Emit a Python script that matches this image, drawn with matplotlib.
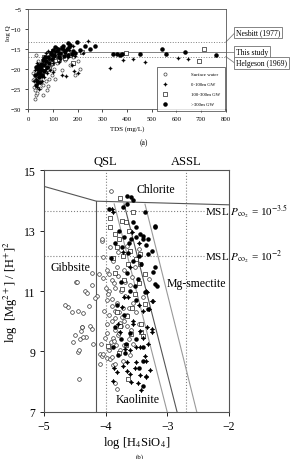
import matplotlib
matplotlib.use("Agg")
import matplotlib.pyplot as plt

plt.rcParams['font.family'] = ['Liberation Serif', 'DejaVu Serif']
plt.rcParams['mathtext.fontset'] = 'stix'

# ---------------- (a) log Q vs TDS ----------------
sw_tds = [27, 30, 27, 35, 61, 75, 81, 20, 135, 189, 25, 40, 50, 60, 70, 45, 55, 65, 80, 90,
          100, 110, 120, 95, 85, 105, 115, 130, 150, 170, 35, 40, 30, 60, 110, 70, 180, 200, 210, 22,
          18, 33, 48, 52, 38]
sw_q = [-27.5, -26.6, -25.3, -26.0, -26.4, -25.3, -24.3, -22.8, -20.3, -21.5, -22.5, -23.2, -22.0, -21.0,
        -20.5, -19.5, -18.8, -19.2, -18.0, -19.0, -17.5, -16.5, -17.0, -21.5, -22.6, -20.0, -18.5, -16.8,
        -17.8, -19.0, -20.0, -18.0, -16.5, -24.0, -22.5, -23.0, -17.0, -18.0, -20.0, -24.5,
        -21.0, -21.8, -24.8, -23.6, -19.0]

gw1_tds = [153, 135, 185, 243, 182, 331, 383, 425, 474, 605, 646, 30, 40, 45, 50, 55, 60, 65, 70, 75,
           80, 85, 90, 95, 100, 105, 110, 115, 120, 130, 140, 150, 160, 165, 175, 190, 200, 220, 35, 45,
           55, 65, 25, 60, 100, 38, 48, 58, 68, 78, 88, 98, 125, 145, 28, 33, 42, 52, 57, 63, 72, 36]
gw1_q = [-21.8, -21.5, -20.4, -12.9, -14.3, -19.7, -17.7, -17.6, -18.3, -17.3, -17.5, -21.5, -23.5, -22.0,
         -20.5, -19.0, -18.0, -17.0, -16.0, -21.0, -19.5, -17.5, -16.5, -15.5, -18.5, -17.0, -15.8, -14.8,
         -16.2, -17.6, -15.0, -16.0, -17.0, -15.2, -19.0, -16.8, -21.0, -16.0, -24.5, -25.0, -23.0, -22.0,
         -23.0, -20.3, -20.8, -19.0, -21.2, -17.5, -18.7, -15.6, -20.2, -16.6, -18.2, -15.7, -20.2, -22.4,
         -20.8, -19.6, -21.8, -18.9, -19.9, -18.4]

gw2_tds = [216, 396, 693, 711, 60, 70, 80, 90, 100, 110, 120, 130, 140, 150, 160, 170, 180, 85, 95,
           105, 115, 125, 135, 145, 75, 65, 45, 55]
gw2_q = [-15.8, -16.1, -18.1, -15.0, -19.5, -18.0, -17.2, -16.0, -15.5, -17.8, -16.3, -15.2, -16.7, -17.3,
         -15.8, -16.5, -18.5, -19.8, -18.6, -16.9, -15.9, -17.5, -14.7, -16.1, -20.0, -17.0, -20.6, -21.6]

gw3_tds = [270, 230, 199, 162, 210, 342, 360, 370, 380, 453, 541, 557, 635, 761, 40, 50, 60, 70, 80,
           90, 100, 110, 120, 130, 140, 150, 160, 170, 180, 190, 45, 55, 65, 75, 85, 95, 105, 115, 125,
           135, 145, 155, 165, 175, 250, 35, 42, 52, 30, 38, 47, 58, 68, 26, 33, 44]
gw3_q = [-14.3, -14.3, -13.3, -13.5, -15.2, -16.2, -16.3, -16.4, -16.2, -16.3, -15.1, -16.2, -15.8, -16.4,
         -21.0, -20.0, -19.0, -18.0, -17.0, -16.0, -15.2, -14.5, -15.0, -16.0, -14.2, -15.5, -16.5, -14.0,
         -15.5, -16.0, -22.0, -21.5, -20.5, -19.5, -18.5, -17.5, -16.5, -15.5, -17.0, -14.8, -16.8, -15.0,
         -14.5, -16.2, -15.0, -23.0, -21.0, -18.8, -19.5, -20.0, -23.3, -17.8, -16.9, -21.6, -24.0, -19.2]

q_ref = [-13.3, -15.8, -16.9]          # Nesbitt, this study, Helgeson
q_lab = ['Nesbitt (1977)', 'This study', 'Helgeson (1969)']
q_lab_y = [-10.9, -15.8, -18.6]        # where the connector meets the box

# ---------------- (b) stability diagram ----------------
b_sw_x = [-4.43, -4.61, -4.48, -4.34, -4.22, -4.44, -4.36, -4.27, -4.25, -4.39, -4.40, -4.22, -4.53, -4.42,
          -4.32, -4.44, -4.43, -4.38, -4.20, -4.09, -4.09, -4.14, -4.22, -4.10, -4.04, -4.05, -4.04, -4.17,
          -4.47, -4.30, -4.66, -4.55, -4.50, -4.37, -4.08,
          -3.98, -3.93, -3.90, -4.06, -4.04, -3.85, -3.82, -3.95, -3.92, -3.88, -3.97, -3.85, -3.80, -3.75,
          -3.90, -3.95, -3.85, -3.70, -3.78, -3.90, -3.98, -3.82, -3.72, -3.65, -3.95, -3.85, -3.75, -3.68,
          -3.90, -3.80, -3.60, -3.98, -3.70, -3.55, -3.50, -3.58, -3.62, -3.70, -3.76, -3.55, -3.88, -3.80,
          -3.65, -3.91, -4.06, -3.72, -3.60, -3.45, -3.40, -3.30, -3.98, -4.02, -4.00, -3.52, -3.45,
          -3.93, -3.87, -3.83, -3.78, -3.74, -3.96, -3.89, -3.84, -3.77, -3.66, -3.94, -3.86, -3.81, -3.69,
          -4.01, -3.93, -3.62, -3.57, -3.88, -3.84]
b_sw_y = [8.09, 10.46, 11.29, 10.99, 11.20, 10.35, 10.27, 10.50, 9.85, 9.80, 9.69, 9.74, 9.32, 9.41,
          9.47, 8.97, 9.06, 9.81, 9.25, 8.92, 8.59, 10.83, 11.60, 11.56, 11.42, 12.66, 12.11, 10.76,
          11.29, 10.95, 10.55, 10.30, 9.55, 9.48, 9.25,
          8.79, 8.75, 8.82, 8.85, 8.92, 7.95, 7.76, 9.05, 9.30, 9.45, 9.60, 9.70, 9.55, 9.85,
          10.0, 10.2, 10.1, 10.0, 10.3, 10.5, 10.7, 10.6, 10.45, 10.2, 11.0, 11.1, 11.0, 10.85,
          11.35, 11.5, 11.2, 11.7, 11.7, 10.6, 10.3, 9.7, 9.4, 9.2, 9.05, 9.25, 12.0, 12.3,
          12.5, 14.3, 12.72, 8.7, 8.9, 9.9, 10.8, 11.4, 9.9, 10.35, 11.1, 11.8, 12.4,
          9.15, 9.35, 9.2, 9.6, 10.15, 10.9, 10.75, 10.35, 9.95, 9.85, 11.55, 11.25, 11.8, 11.3,
          9.45, 12.45, 10.45, 11.45, 8.55, 8.6]

b_g1_x = [-3.86, -3.81, -3.88, -3.71, -3.65, -3.61, -3.44, -3.35, -3.42, -3.69, -3.61, -3.50, -3.44, -3.35,
          -3.50, -3.65, -3.28, -3.36, -3.35, -3.25, -3.23, -3.33, -3.88, -3.90, -3.35, -3.30, -3.60, -3.45,
          -3.55, -3.80, -3.70, -3.74, -3.63, -3.33, -3.25, -3.39, -3.55, -3.44, -3.25, -3.77, -3.58, -3.48,
          -3.52, -3.40, -3.72, -3.31, -3.46, -3.57]
b_g1_y = [8.44, 8.31, 8.03, 8.53, 8.37, 8.26, 8.22, 8.15, 7.73, 9.09, 9.06, 9.14, 9.14, 8.70,
          8.64, 8.65, 8.40, 8.86, 8.20, 9.74, 10.68, 9.80, 13.60, 13.70, 11.0, 10.4, 11.8, 12.6,
          10.0, 9.9, 10.8, 10.46, 10.81, 10.96, 10.68, 10.35, 9.91, 9.69, 9.63, 9.63, 8.0, 7.95,
          8.45, 9.45, 12.3, 9.25, 10.55, 12.95]

b_g2_x = [-3.96, -3.67, -3.63, -3.42, -3.76, -3.55, -3.93, -3.93, -3.74, -3.67, -3.78, -3.81, -3.62, -3.61,
          -3.44, -3.63, -3.44, -3.50, -3.36, -3.74, -3.82, -3.66, -3.42, -3.36, -3.77, -3.58, -3.39, -3.85,
          -3.70, -3.88, -3.52, -3.84, -3.71, -3.46, -3.57, -3.79]
b_g2_y = [9.19, 9.21, 8.09, 9.65, 14.07, 13.60, 13.41, 13.13, 13.32, 13.29, 12.72, 12.44, 12.99, 12.33,
          12.22, 11.89, 11.89, 12.06, 11.56, 11.07, 10.30, 10.18, 9.91, 10.57, 9.85, 9.58, 9.52, 11.6,
          11.35, 12.1, 10.9, 12.9, 12.15, 11.25, 10.45, 8.95]

b_g3_x = [-3.65, -3.58, -3.56, -3.66, -3.71, -3.55, -3.50, -3.58, -3.50, -3.44, -3.40, -3.35, -3.20, -3.36,
          -3.20, -3.39, -3.25, -3.31, -3.20, -3.17, -3.31, -3.23, -3.20, -3.36, -3.31, -3.40, -3.39, -3.40,
          -3.78, -3.70, -3.62, -3.55, -3.65, -3.75, -3.60, -3.50, -3.70, -3.85, -3.75, -3.60, -3.50, -3.80,
          -3.68, -3.88, -3.92, -3.85, -3.48, -3.42, -3.95, -3.73, -3.64, -3.46, -3.53, -3.82, -3.67, -3.45]
b_g3_y = [14.13, 14.12, 14.02, 13.88, 13.77, 13.27, 13.10, 12.72, 12.78, 12.88, 12.83, 12.52, 13.10, 13.60,
          13.16, 12.72, 12.33, 12.22, 11.78, 11.18, 12.72, 11.62, 11.23, 10.96, 10.40, 9.14, 8.70, 7.87,
          13.0, 12.8, 12.6, 12.0, 11.6, 11.3, 11.0, 10.7, 10.2, 9.8, 9.4, 9.6, 9.4, 8.9,
          8.95, 9.15, 12.1, 12.6, 11.4, 11.9, 13.7, 12.45, 12.25, 12.15, 11.15, 10.55, 9.25, 8.45]

chl_x = [-5.0, -4.15, -2.0]
chl_y = [14.46, 13.97, 13.85]
gib_x = [-4.15, -4.15]
gib_y = [7.0, 13.97]
kao_x = [[-3.86, -3.00], [-3.70, -2.84], [-3.36, -2.52]]
kao_y = [[13.88, 7.0], [13.88, 7.0], [13.87, 7.0]]
kao_c = ['#9a9a9a', '#555555', '#9a9a9a']
msl_y = [13.64, 12.16]
msl_lab = [r'MSL $P_{\mathrm{co}_2}$ = 10$^{-3.5}$', r'MSL $P_{\mathrm{co}_2}$ = 10$^{-2}$']
qsl_x = -4.0
assl_x = -2.7

fig = plt.figure(figsize=(2.93, 4.60), dpi=100)

# ---- panel a ----
ax1 = fig.add_axes([0.0966, 0.761, 0.674, 0.2174])
ax1.scatter(sw_tds, sw_q, s=5, facecolors='white', edgecolors='#444444', linewidths=0.5, zorder=3, label='Surface water')
ax1.scatter(gw1_tds, gw1_q, s=7, marker=(4, 1, 0), color='black', linewidths=0.3, zorder=4, label='0-100m GW')
ax1.scatter(gw2_tds, gw2_q, s=5, marker='s', facecolors='white', edgecolors='#222222', linewidths=0.5, zorder=3, label='100-300m GW')
ax1.scatter(gw3_tds, gw3_q, s=5, color='black', zorder=4, label='>300m GW')

styles = [':', '-', ':']
for q, ls in zip(q_ref, styles):
    ax1.axhline(q, color='#808080', ls=ls, lw=0.7, zorder=2)
for q, ly, lab, ls in zip(q_ref, q_lab_y, q_lab, styles):
    ax1.plot([800, 838], [q, ly], color='#808080', lw=0.6, ls='-', clip_on=False)
    ax1.text(842, ly, lab, fontsize=5.5, va='center', ha='left',
             bbox=dict(boxstyle='square,pad=0.25', fc='white', ec='#707070', lw=0.6))

ax1.set_xlim(0, 800)
ax1.set_ylim(-30, -5)
ax1.set_xticks(range(0, 801, 100))
ax1.set_yticks(range(-30, -4, 5))
ax1.tick_params(labelsize=4.8, length=2.5, width=0.5, pad=2.5)
for sp in ax1.spines.values():
    sp.set_linewidth(0.6)
    sp.set_color('#555555')
ax1.set_xlabel('TDS (mg/L)', fontsize=5, labelpad=3)
fig.text(0.028, 0.928, 'log Q', rotation=90, fontsize=5, ha='center', va='center')
fig.text(0.49, 0.689, '(a)', fontsize=5.5, ha='center', va='center')
leg = ax1.legend(loc='lower right', bbox_to_anchor=(0.995, -0.02), fontsize=3.5, frameon=True,
                 fancybox=False, edgecolor='#333333', handletextpad=4.5, borderpad=1.0,
                 labelspacing=1.15, handlelength=1.5, markerscale=1.0, borderaxespad=0.0)
leg.get_frame().set_linewidth(0.6)

# ---- panel b ----
ax2 = fig.add_axes([0.150, 0.1022, 0.631, 0.526])
ax2.scatter(b_sw_x, b_sw_y, s=7, facecolors='white', edgecolors='#333333', linewidths=0.5, zorder=3)
ax2.scatter(b_g2_x, b_g2_y, s=7, marker='s', facecolors='white', edgecolors='#222222', linewidths=0.5, zorder=3)
ax2.scatter(b_g3_x, b_g3_y, s=5, color='black', zorder=4)
ax2.scatter(b_g1_x, b_g1_y, s=11, marker=(4, 1, 0), color='black', linewidths=0.3, zorder=4)

ax2.plot(chl_x, chl_y, color='#555555', lw=0.8, zorder=2)
ax2.plot(gib_x, gib_y, color='#555555', lw=0.8, zorder=2)
for xs, ys, c in zip(kao_x, kao_y, kao_c):
    ax2.plot(xs, ys, color=c, lw=0.8, zorder=2)
for y, lab in zip(msl_y, msl_lab):
    ax2.plot([-5, -2.4], [y, y], color='#808080', ls=':', lw=0.8, zorder=1)
    ax2.text(-2.38, y, lab, fontsize=8, va='center', ha='left', clip_on=False)
ax2.axvline(qsl_x, color='#808080', ls=':', lw=0.8, zorder=1)
ax2.axvline(assl_x, color='#808080', ls=':', lw=0.8, zorder=1)
ax2.text(qsl_x, 15.3, 'QSL', fontsize=9, ha='center', va='center')
ax2.text(assl_x, 15.3, 'ASSL', fontsize=9, ha='center', va='center')
ax2.text(-3.18, 14.37, 'Chlorite', fontsize=8.5, ha='center', va='center')
ax2.text(-4.57, 11.79, 'Gibbsite', fontsize=8.5, ha='center', va='center')
ax2.text(-3.48, 7.43, 'Kaolinite', fontsize=8.5, ha='center', va='center')
ax2.text(-2.52, 11.26, 'Mg-smectite', fontsize=8.5, ha='center', va='center')

ax2.set_xlim(-5, -2)
ax2.set_ylim(7, 15)
ax2.set_xticks([-5, -4, -3, -2])
ax2.set_yticks([7, 9, 11, 13, 15])
ax2.tick_params(labelsize=8.5, length=3, width=0.6, pad=3)
for sp in ax2.spines.values():
    sp.set_linewidth(0.8)
    sp.set_color('#555555')
ax2.set_xlabel(r'log [H$_4$SiO$_4$]', fontsize=9, labelpad=1)
ax2.set_ylabel(r'log  [Mg$^{2+}$] / [H$^{+}$]$^2$', fontsize=9, labelpad=3)
fig.text(0.478, 0.0, '(b)', fontsize=5, ha='center', va='bottom')

fig.savefig('out.png', dpi=100)
